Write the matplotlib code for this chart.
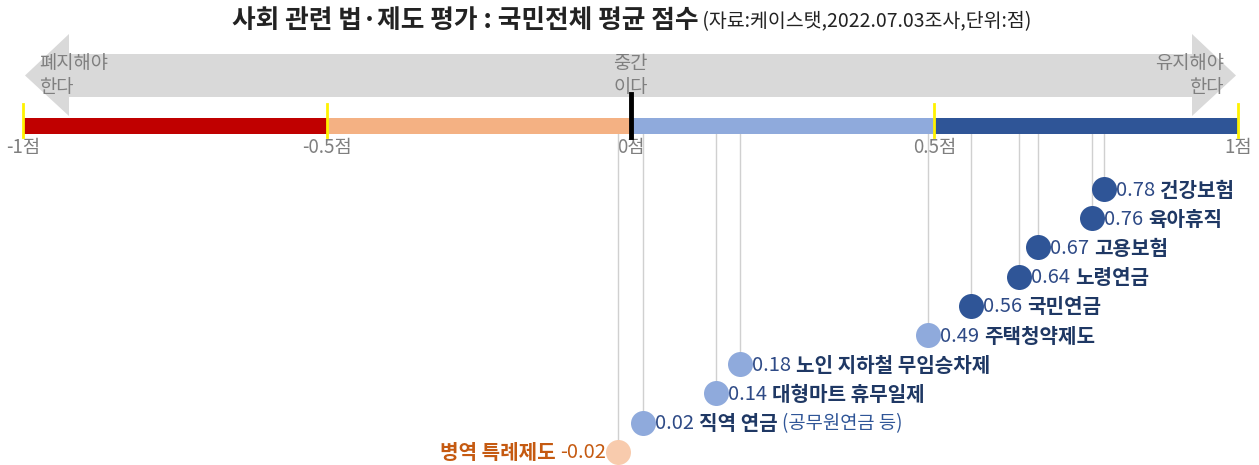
import matplotlib
matplotlib.use("Agg")
import matplotlib.pyplot as plt
from matplotlib.patches import Polygon

plt.rcParams['font.family'] = ['Noto Sans CJK KR', 'DejaVu Sans']

# ---- data ----
names = ['건강보험', '육아휴직', '고용보험', '노령연금', '국민연금', '주택청약제도',
         '노인 지하철 무임승차제', '대형마트 휴무일제', '직역 연금', '병역 특례제도']
extras = ['', '', '', '', '', '', '', '', '(공무원연금 등)', '']
values = [0.78, 0.76, 0.67, 0.64, 0.56, 0.49, 0.18, 0.14, 0.02, -0.02]
seg_edges = [-1, -0.5, 0, 0.5, 1]
seg_colors = ['#C00000', '#F4B183', '#8FAADC', '#2F5597']
tick_vals = [-1, -0.5, 0, 0.5, 1]
tick_labels = ['-1점', '-0.5점', '0점', '0.5점', '1점']
title_main = '사회 관련 법·제도 평가 : 국민전체 평균 점수'
title_sub = '(자료:케이스탯,2022.07.03조사,단위:점)'

W, H = 1259, 465
fig = plt.figure(figsize=(W / 100, H / 100), dpi=100)
ax = fig.add_axes([0, 0, 1, 1])
scale = 607.5
ax.set_xlim(-1 - 23 / scale, 1 + 21 / scale)
ax.set_ylim(H, 0)
ax.axis('off')
XL = ax.get_xlim()

px = 1 / scale  # one pixel in data units


def pix2x(p):
    return p / W * (XL[1] - XL[0]) + XL[0]


# gray double arrow
body_top, body_bot = 54, 97
head_top, head_bot = 34, 116
hl = 44 * px
xl, xr = -1 + 2 * px, 1 - 2 * px
poly = [(xl, (body_top + body_bot) / 2), (xl + hl, head_top), (xl + hl, body_top),
        (xr - hl, body_top), (xr - hl, head_top), (xr, (body_top + body_bot) / 2),
        (xr - hl, head_bot), (xr - hl, body_bot), (xl + hl, body_bot), (xl + hl, head_bot)]
ax.add_patch(Polygon(poly, closed=True, facecolor='#D9D9D9', edgecolor='none', zorder=1))

gray_txt = '#7F7F7F'
for xx, txt, ha in [(-1 + 16 * px, ('폐지해야', '한다'), 'left'),
                    (0, ('중간', '이다'), 'center'),
                    (1 - 14 * px, ('유지해야', '한다'), 'right')]:
    ax.text(xx, 63, txt[0], ha=ha, va='center', fontsize=13.5, color=gray_txt, zorder=2)
    ax.text(xx, 88, txt[1], ha=ha, va='center', fontsize=13.5, color=gray_txt, zorder=2)

# color bar
bar_top, bar_bot = 118, 134
for i in range(len(seg_colors)):
    ax.barh((bar_top + bar_bot) / 2, seg_edges[i + 1] - seg_edges[i], left=seg_edges[i],
            height=bar_bot - bar_top, color=seg_colors[i], zorder=3)
for t in [-1, -0.5, 0.5, 1]:
    ax.plot([t, t], [104, 137], color='#FFF200', lw=2, zorder=4)
ax.plot([0, 0], [94, 137], color='black', lw=3.5, zorder=5)

for t, lab in zip(tick_vals, tick_labels):
    ax.text(t, 147, lab, ha='center', va='center', fontsize=13.5, color=gray_txt, zorder=2)

# title
fig.canvas.draw()
r = fig.canvas.get_renderer()
t1 = fig.text(0, 1 - 21 / H, title_main, fontsize=18.5, fontweight='bold', color='#222222',
              ha='left', va='center')
t2 = fig.text(0, 1 - 22 / H, ' ' + title_sub, fontsize=14, color='#222222', ha='left',
              va='center')
w1 = t1.get_window_extent(r).width
w2 = t2.get_window_extent(r).width
x0 = (W * 0.5 - (w1 + w2) / 2 + 2)
t1.set_x(x0 / W)
t2.set_x((x0 + w1) / W)

# dots
y0, dy = 189, 29.2
navy = '#1F3864'
valc = '#2E4A86'
fs = 14.5
for i, (n, e, v) in enumerate(zip(names, extras, values)):
    y = y0 + i * dy
    if v >= 0.5:
        c = '#2F5597'
    elif v >= 0:
        c = '#8FAADC'
    else:
        c = '#F8CBAD'
    ax.plot([v, v], [bar_bot, y], color='#D0D0D0', lw=1, zorder=2)
    ax.plot(v, y, 'o', ms=18, color=c, mec='none', zorder=6)
    if v >= 0:
        xs = v + 12 * px
        tv = ax.text(xs, y + 1, f'{v:.2f}', ha='left', va='center', fontsize=fs,
                     color=valc, zorder=7)
        bb = tv.get_window_extent(r)
        tn = ax.text(pix2x(bb.x1 + 5), y + 1, n, ha='left', va='center', fontsize=fs,
                     fontweight='bold', color=navy, zorder=7)
        if e:
            bb2 = tn.get_window_extent(r)
            ax.text(pix2x(bb2.x1 + 5), y + 1, e, ha='left', va='center', fontsize=13.5,
                    color='#2F5597', zorder=7)
    else:
        oc = '#C55A11'
        xe = v - 12 * px
        tv = ax.text(xe, y + 1, f'{v:.2f}', ha='right', va='center', fontsize=fs,
                     color=oc, zorder=7)
        bb = tv.get_window_extent(r)
        ax.text(pix2x(bb.x0 - 5), y + 1, n, ha='right', va='center', fontsize=fs,
                fontweight='bold', color=oc, zorder=7)

fig.savefig('out.png', dpi=100)
